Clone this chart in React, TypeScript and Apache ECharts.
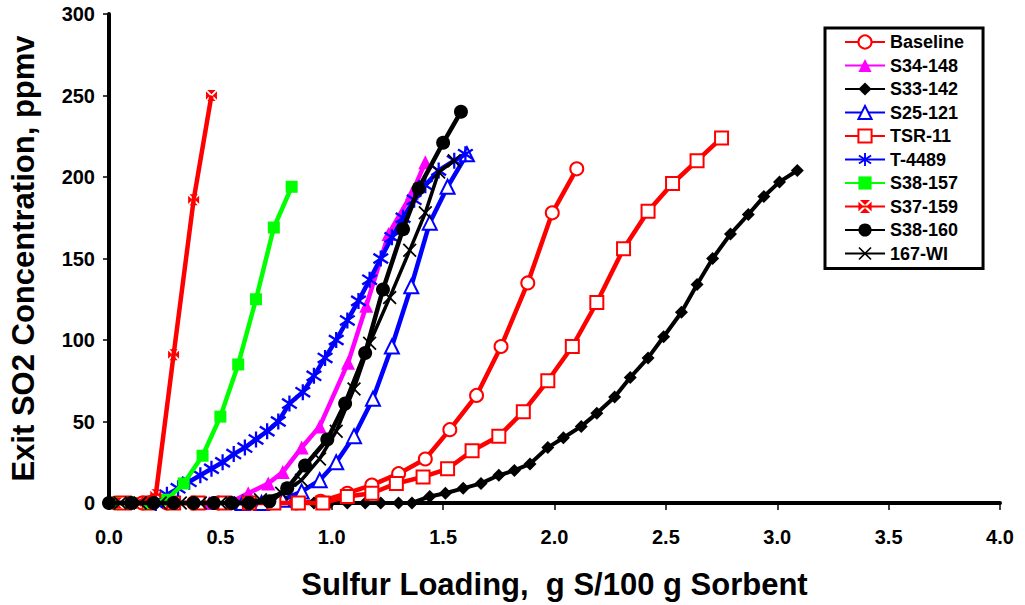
import React, { useEffect, useRef } from "react";
import * as echarts from "echarts";

// ---- data: [sulfur loading (g S/100 g sorbent), exit SO2 (ppmv)] ----
const baseline: [number, number][] = [
  [0.03, 0], [0.15, 0], [0.26, 0], [0.38, 0], [0.49, 0], [0.61, 0], [0.72, 0], [0.84, 0], [0.95, 1],
  [1.07, 6], [1.18, 11], [1.30, 18], [1.42, 27], [1.53, 45], [1.65, 66], [1.76, 96], [1.88, 135],
  [1.99, 178], [2.10, 205],
];
const s34_148: [number, number][] = [
  [0.45, 0], [0.54, 0], [0.625, 6], [0.715, 12], [0.78, 19], [0.865, 34], [0.946, 47], [1.073, 86],
  [1.155, 121], [1.255, 165], [1.36, 190], [1.42, 209],
];
const s33_142: [number, number][] = [
  [0.84, 0], [0.92, 0], [0.99, 0], [1.07, 0], [1.15, 0], [1.22, 0], [1.30, 0], [1.36, 0], [1.44, 4],
  [1.51, 6], [1.59, 9], [1.67, 12], [1.75, 17], [1.82, 20], [1.89, 24], [1.97, 34], [2.04, 40],
  [2.12, 47], [2.19, 55], [2.27, 65], [2.34, 77], [2.42, 89], [2.49, 102], [2.57, 117], [2.64, 134],
  [2.71, 150], [2.79, 165], [2.87, 177], [2.94, 188], [3.01, 197], [3.09, 204],
];
const s25_121: [number, number][] = [
  [0.60, 0], [0.685, 0], [0.78, 2], [0.865, 7], [0.946, 14], [1.02, 25], [1.10, 41], [1.185, 64],
  [1.27, 96], [1.357, 133], [1.44, 172], [1.52, 194], [1.607, 214],
];
const tsr11: [number, number][] = [
  [0.07, 0], [0.18, 0], [0.29, 0], [0.40, 0], [0.52, 0], [0.63, 0], [0.74, 0], [0.85, 0], [0.96, 0],
  [1.07, 4], [1.18, 6], [1.29, 12], [1.41, 16], [1.52, 21], [1.63, 32], [1.75, 41], [1.86, 56],
  [1.97, 75], [2.08, 96], [2.19, 123], [2.31, 156], [2.42, 179], [2.53, 196], [2.64, 210], [2.75, 224],
];
const t4489: [number, number][] = [
  [0.21, 0], [0.26, 5], [0.31, 9], [0.36, 13], [0.41, 17], [0.46, 21], [0.51, 25], [0.56, 30],
  [0.61, 34], [0.66, 39], [0.71, 44], [0.76, 50], [0.81, 61], [0.87, 68], [0.92, 78], [0.97, 89],
  [1.02, 100], [1.07, 112], [1.12, 124], [1.17, 137], [1.22, 150], [1.27, 163], [1.32, 175],
  [1.37, 186], [1.42, 195], [1.48, 204], [1.55, 210], [1.60, 214],
];
const s38_157: [number, number][] = [
  [0.02, 0], [0.10, 0], [0.18, 0], [0.26, 2], [0.335, 12], [0.42, 29], [0.50, 53], [0.58, 85],
  [0.66, 125], [0.74, 169], [0.82, 194],
];
const s37_159: [number, number][] = [
  [0.04, 0], [0.12, 0], [0.21, 5], [0.29, 91], [0.38, 186], [0.46, 250],
];
const s38_160: [number, number][] = [
  [0.00, 0], [0.10, 0], [0.20, 0], [0.29, 0], [0.38, 0], [0.47, 0], [0.55, 0], [0.63, 0], [0.72, 1],
  [0.80, 9], [0.88, 23], [0.98, 39], [1.06, 61], [1.15, 92], [1.23, 131], [1.32, 168], [1.39, 193],
  [1.50, 221], [1.58, 240],
];
const wi167: [number, number][] = [
  [0.05, 0], [0.14, 0], [0.23, 0], [0.32, 0], [0.41, 0], [0.50, 0], [0.59, 0], [0.68, 2], [0.775, 6],
  [0.864, 14], [0.945, 27], [1.02, 44], [1.10, 70], [1.17, 98], [1.26, 126], [1.35, 155], [1.42, 178],
  [1.48, 203], [1.55, 210],
];

const seriesNames = [
  "Baseline", "S34-148", "S33-142", "S25-121", "TSR-11", "T-4489", "S38-157", "S37-159", "S38-160", "167-WI",
];
const xTicks = { min: 0, max: 4, interval: 0.5 };
const yTicks = { min: 0, max: 300, interval: 50 };

// ---- symbols ----
const ASTERISK =
  "path://M4.3,0 L5.7,0 L5.7,10 L4.3,10 Z M0.9,1.4 L9.9,7.4 L9.1,8.6 L0.1,2.6 Z M0.1,7.4 L9.1,1.4 L9.9,2.6 L0.9,8.6 Z";
const CROSS = "path://M0.9,0 L10,9.1 L9.1,10 L0,0.9 Z M0,9.1 L9.1,0 L10,0.9 L0.9,10 Z";
const BOXCROSS =
  "path://M1.2,0 L8.8,0 L5,3.8 Z M10,1.2 L10,8.8 L6.2,5 Z M8.8,10 L1.2,10 L5,6.2 Z M0,8.8 L0,1.2 L3.8,5 Z";

const FONT = "'Liberation Sans', Arial, sans-serif";

type Spec = {
  data: [number, number][];
  symbol: string;
  size: number | number[];
  color: string;
  empty?: boolean;
  width?: number;
};

const specs: Spec[] = [
  { data: baseline, symbol: "circle", size: 13, color: "#ff0000", empty: true },
  { data: s34_148, symbol: "triangle", size: 14, color: "#ff00ff" },
  { data: s33_142, symbol: "diamond", size: 13, color: "#000000", width: 4 },
  { data: s25_121, symbol: "triangle", size: 14, color: "#0000ff", empty: true },
  { data: tsr11, symbol: "rect", size: 13, color: "#ff0000", empty: true },
  { data: t4489, symbol: ASTERISK, size: 16, color: "#0000ff" },
  { data: s38_157, symbol: "rect", size: 12, color: "#00ff00" },
  { data: s37_159, symbol: BOXCROSS, size: 11, color: "#ff0000" },
  { data: s38_160, symbol: "circle", size: 14, color: "#000000" },
  { data: wi167, symbol: CROSS, size: 14, color: "#000000", width: 3.5 },
];

function buildOption() {
  const series = specs.map((s, i) => ({
    type: "line",
    name: seriesNames[i],
    data: s.data,
    symbol: s.symbol,
    symbolSize: s.size,
    showAllSymbol: true,
    clip: false,
    lineStyle: { color: s.color, width: s.width ?? 4.5 },
    itemStyle: s.empty
      ? { color: "#ffffff", borderColor: s.color, borderWidth: 2 }
      : { color: s.color, borderWidth: 0 },
    emphasis: { disabled: true },
    z: 2 + i * 0.01,
  }));

  return {
    animation: false,
    backgroundColor: "#ffffff",
    textStyle: { fontFamily: FONT },
    grid: { left: 107, top: 14, right: 25, bottom: 102, containLabel: false },
    xAxis: {
      type: "value",
      ...xTicks,
      name: "Sulfur Loading,  g S/100 g Sorbent",
      nameLocation: "middle",
      nameGap: 66,
      nameTextStyle: { fontFamily: FONT, fontWeight: "bold", fontSize: 31, color: "#000" },
      axisLine: { show: true, onZero: false, lineStyle: { color: "#000", width: 4 } },
      axisTick: { show: true, inside: false, length: 7, lineStyle: { color: "#000", width: 1.5 } },
      axisLabel: {
        margin: 24,
        fontFamily: FONT,
        fontWeight: "bold",
        fontSize: 20,
        color: "#000",
        formatter: (v: number) => v.toFixed(1),
      },
      splitLine: { show: false },
    },
    yAxis: {
      type: "value",
      ...yTicks,
      name: "Exit SO2 Concentration, ppmv",
      nameLocation: "middle",
      nameGap: 70,
      nameTextStyle: { fontFamily: FONT, fontWeight: "bold", fontSize: 31, color: "#000" },
      axisLine: { show: true, onZero: false, lineStyle: { color: "#000", width: 4 } },
      axisTick: { show: true, inside: false, length: 6, lineStyle: { color: "#000", width: 1.5 } },
      axisLabel: {
        margin: 14,
        fontFamily: FONT,
        fontWeight: "bold",
        fontSize: 20,
        color: "#000",
      },
      splitLine: { show: false },
    },
    legend: {
      orient: "vertical",
      left: 825,
      top: 28,
      data: seriesNames,
      itemWidth: 40,
      itemHeight: 16.5,
      itemGap: 5.5,
      padding: [5, 19, 6, 19],
      backgroundColor: "#ffffff",
      borderColor: "#000000",
      borderWidth: 3,
      borderRadius: 0,
      selectedMode: false,
      textStyle: { fontFamily: FONT, fontWeight: "bold", fontSize: 18, color: "#000" },
    },
    series,
  };
}

export default function App() {
  const ref = useRef<HTMLDivElement>(null);
  useEffect(() => {
    document.body.style.margin = "0";
    const chart = echarts.init(ref.current as HTMLDivElement, null, { renderer: "svg" });
    chart.setOption(buildOption() as any);
    return () => chart.dispose();
  }, []);
  return <div ref={ref} style={{ width: 1025, height: 605 }} />;
}
